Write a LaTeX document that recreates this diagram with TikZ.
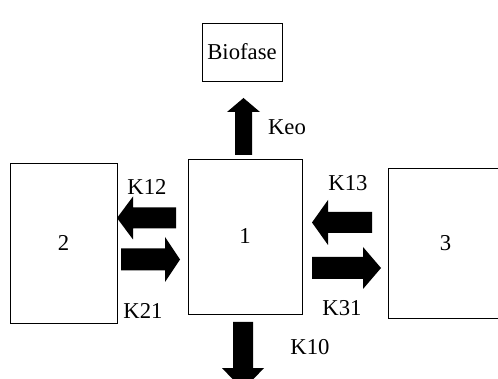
\documentclass[tikz,border=0pt]{standalone}
\usepackage{fontspec}
\setmainfont{Liberation Serif}
\newfontfamily\labelfont{Liberation Serif}
\begin{document}
\begin{tikzpicture}[x=1pt,y=-1pt,
  font=\labelfont\fontsize{22.7}{26}\selectfont,
  comp/.style={draw=black, line width=0.9pt, inner sep=0pt, fill=white},
  rate/.style={inner sep=0pt},
  % filled block arrow, drawn from its tail along the local x axis:
  % length / shaft width / head width / head length
  pics/blockarrow/.style args={#1/#2/#3/#4}{code={
    \fill[black] (0,-#2/2) -- (#1-#4,-#2/2) -- (#1-#4,-#3/2) -- (#1,0)
      -- (#1-#4,#3/2) -- (#1-#4,#2/2) -- (0,#2/2) -- cycle;
  }}]
\useasboundingbox (0,0) rectangle (498,379);

% compartments
\node[comp, minimum width=80pt, minimum height=58pt] (bio) at (242,52) {Biofase};
\node[comp, minimum width=114pt, minimum height=155pt] (c1) at (245,236.5) {1};
\node[comp, minimum width=107pt, minimum height=160pt] (c2) at (63.5,243) {2};
\node[comp, minimum width=115pt, minimum height=150pt] (c3) at (445.5,243) {3};

% transfer arrows
\pic[rotate=90]  at (243.5,155) {blockarrow={57/17/33/14}};
\pic[rotate=-90] at (243,322)   {blockarrow={68/20/42/22}};
\pic[rotate=180] at (176,218)   {blockarrow={59/21/43/16}};
\pic              at (121,259.5) {blockarrow={59/22/45/15}};
\pic[rotate=180] at (372,222.5) {blockarrow={60/21/45/16}};
\pic              at (312,268)   {blockarrow={69/22/42/18}};

% rate constants
\node[rate] (keo) at (287,127) {Keo};
\node[rate] (k12) at (147,187) {K12};
\node[rate] (k21) at (143,311) {K21};
\node[rate] (k13) at (348,183) {K13};
\node[rate] (k31) at (342,308) {K31};
\node[rate] (k10) at (310,347) {K10};
\end{tikzpicture}
\end{document}
